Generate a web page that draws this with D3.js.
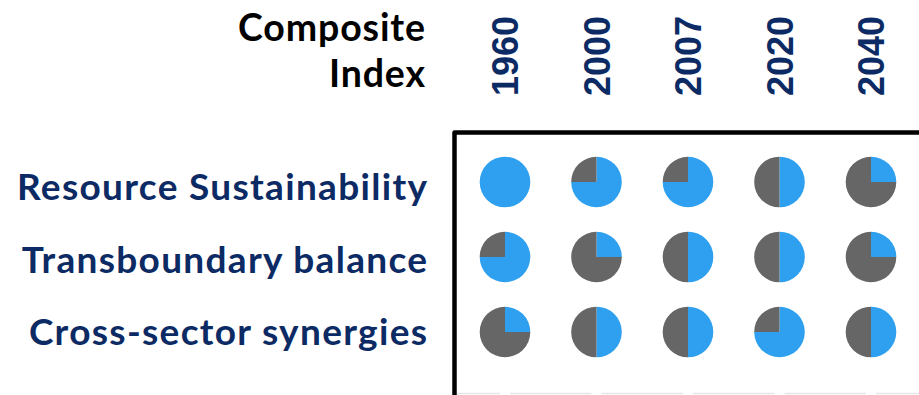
<!DOCTYPE html>
<html>
<head>
<meta charset="utf-8">
<script src="https://cdn.jsdelivr.net/npm/d3@7"></script>
<style>
  html, body { margin: 0; padding: 0; background: #ffffff; }
  svg { display: block; }
</style>
</head>
<body>
<svg id="chart" width="919" height="395"></svg>
<script>
// Years shown as columns
const years = ["1960", "2000", "2007", "2020", "2040"];
// Indices shown as rows
const indices = ["Resource Sustainability", "Transboundary balance", "Cross-sector synergies"];
// Share of each ball filled in blue, per index, per year
const resourceSustainability = [1.00, 0.75, 0.75, 0.50, 0.25];
const transboundaryBalance   = [0.75, 0.25, 0.50, 0.50, 0.25];
const crossSectorSynergies   = [0.25, 0.50, 0.50, 0.75, 0.50];
const headerLines = ["Composite", "Index"];

const seriesByIndex = {
  "Resource Sustainability": resourceSustainability,
  "Transboundary balance": transboundaryBalance,
  "Cross-sector synergies": crossSectorSynergies
};

const BLUE = "#2ea0ef";
const GREY = "#666666";
const NAVY = "#0c2a64";
const LABEL_FONT = "Lato, 'Open Sans', sans-serif";

const svg = d3.select("#chart");

const x = d3.scalePoint().domain(years).range([505, 871]);
const y = d3.scalePoint().domain(indices).range([182, 332]);
// row-label baselines sit slightly tighter than the ball rows
const yLabel = d3.scalePoint().domain(indices).range([200, 345]);
const radius = 25.3;

// spread letters so a text line reaches the wanted width
function fitSpacing(sel, width) {
  const node = sel.node();
  const natural = node.getComputedTextLength();
  const n = node.textContent.length;
  return (width - natural) / (n - 1);
}

// frame around the ball grid
svg.append("path")
  .attr("d", "M454.5,400 L454.5,132.5 L925,132.5")
  .attr("fill", "none")
  .attr("stroke", "#000")
  .attr("stroke-width", 4.5)
  .attr("stroke-linejoin", "round");

// faint rule at the bottom edge, broken under each column
const bottomRule = svg.append("g");
const stops = [457].concat(years.map(d => x(d)));
stops.forEach((s, i) => {
  const x0 = i === 0 ? s : s + 5;
  const x1 = i + 1 < stops.length ? stops[i + 1] - 5 : 919;
  bottomRule.append("line")
    .attr("x1", x0).attr("x2", x1)
    .attr("y1", 393.5).attr("y2", 393.5)
    .attr("stroke", "#e6e6e6").attr("stroke-width", 1.5);
});

// header
const header = svg.append("g").selectAll("text")
  .data(headerLines)
  .join("text")
  .attr("x", 425)
  .attr("y", (d, i) => 41 + i * 46)
  .attr("text-anchor", "end")
  .attr("font-family", LABEL_FONT)
  .attr("font-weight", 700)
  .attr("font-size", 37.5)
  .attr("fill", "#000")
  .text(d => d);
const headerSpacing = fitSpacing(header.filter((d, i) => i === 0), 187);
header.attr("letter-spacing", headerSpacing)
  .attr("dx", headerSpacing);

// year labels, rotated
svg.append("g").selectAll("text")
  .data(years)
  .join("text")
  .attr("transform", d => `translate(${x(d) + 13},96) rotate(-90)`)
  .attr("text-anchor", "start")
  .attr("font-family", "'Liberation Sans', Arial, sans-serif")
  .attr("font-weight", 700)
  .attr("font-size", 36)
  .attr("fill", NAVY)
  .text(d => d);

// row labels
const rowLabels = svg.append("g").selectAll("text")
  .data(indices)
  .join("text")
  .attr("x", 427)
  .attr("y", d => yLabel(d))
  .attr("text-anchor", "end")
  .attr("font-family", LABEL_FONT)
  .attr("font-weight", 700)
  .attr("font-size", 37)
  .attr("fill", NAVY)
  .text(d => d);
const rowSpacing = fitSpacing(rowLabels.filter((d, i) => i === 0), 410);
rowLabels.attr("letter-spacing", rowSpacing)
  .attr("dx", rowSpacing);

// harvey balls
const pie = d3.pie().sort(null).value(d => d.v);
const arc = d3.arc().innerRadius(0).outerRadius(radius);

indices.forEach(idx => {
  seriesByIndex[idx].forEach((v, j) => {
    const g = svg.append("g")
      .attr("transform", `translate(${x(years[j])},${y(idx)})`);
    g.selectAll("path")
      .data(pie([{ v: v, c: BLUE }, { v: 1 - v, c: GREY }]))
      .join("path")
      .attr("d", arc)
      .attr("fill", d => d.data.c);
  });
});
</script>
</body>
</html>
